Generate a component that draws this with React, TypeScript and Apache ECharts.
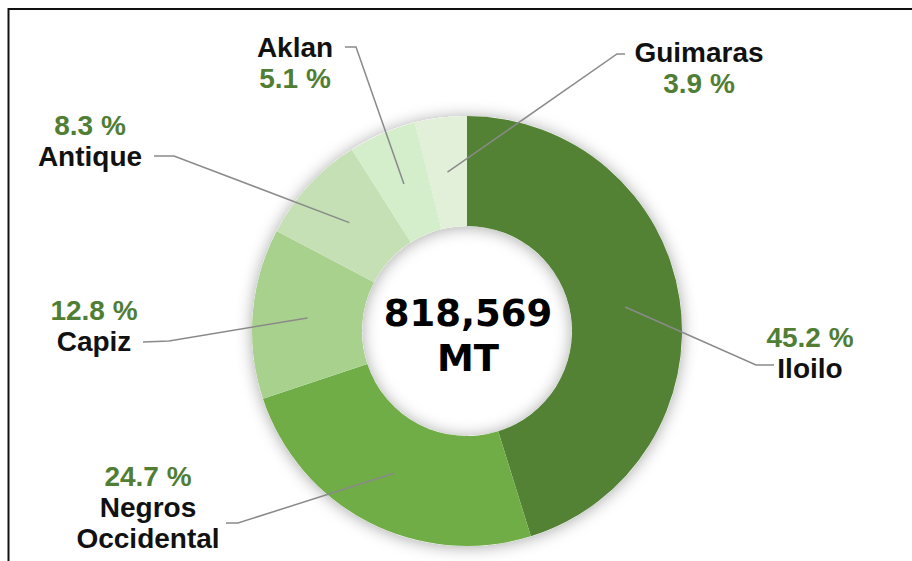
import React, { useEffect, useRef } from 'react';
import * as echarts from 'echarts';

// ---- data ----
const regions = ['Iloilo', 'Negros Occidental', 'Capiz', 'Antique', 'Aklan', 'Guimaras'];
const shares = [45.2, 24.7, 12.8, 8.3, 5.1, 3.9];
const sliceColors = ['#548235', '#70AD47', '#A9D18E', '#C5E0B4', '#D4EDCA', '#E2EFD9'];
const totalVolumeMT = 818569;
const unitLabel = 'MT';
const nameFirst = [false, false, false, false, true, true];

// ---- layout ----
const CX = 467;
const CY = 331;
const R0 = 105;
const R1 = 215;
const RLINE = 160;

const labelSpots: { x: number; y: number; elbow: number[]; end: number[] }[] = [
  { x: 810, y: 353, elbow: [756, 365], end: [774, 365] },
  { x: 148, y: 507, elbow: [238, 523], end: [226, 523] },
  { x: 94, y: 326, elbow: [169, 341], end: [143, 342] },
  { x: 90, y: 141, elbow: [174, 156], end: [154, 156] },
  { x: 295, y: 63, elbow: [356, 47], end: [345, 47] },
  { x: 699, y: 68, elbow: [617, 54], end: [625, 54] },
];

const FONT = '"Liberation Sans", Arial, sans-serif';

function fallbackStart(i: number): number[] {
  const total = shares.reduce((a, b) => a + b, 0);
  let cum = 0;
  for (let k = 0; k < i; k++) cum += shares[k];
  const mid = ((cum + shares[i] / 2) / total) * Math.PI * 2;
  return [CX + RLINE * Math.sin(mid), CY - RLINE * Math.cos(mid)];
}

export default function App() {
  const ref = useRef<HTMLDivElement>(null);

  useEffect(() => {
    if (!ref.current) return;
    const chart = echarts.init(ref.current, undefined, { renderer: 'svg' });
    const pieData = regions.map((name, i) => ({
      name,
      value: shares[i],
      itemStyle: { color: sliceColors[i] },
    }));

    chart.setOption({
      animation: false,
      backgroundColor: '#ffffff',
      graphic: [
        {
          type: 'polyline',
          silent: true,
          shape: { points: [[8.5, 561], [8.5, 9], [912, 9]] },
          style: { stroke: '#111', lineWidth: 2, fill: 'none' },
          z: 100,
        },
        {
          type: 'text',
          silent: true,
          x: 468,
          y: 336,
          z: 100,
          style: {
            text: totalVolumeMT.toLocaleString('en-US') + '\n' + unitLabel,
            fontFamily: '"DejaVu Sans", Verdana, sans-serif',
            fontWeight: 'bold',
            fontSize: 37,
            lineHeight: 45,
            fill: '#000',
            align: 'center',
            verticalAlign: 'middle',
          },
        },
      ],
      series: [
        {
          type: 'pie',
          silent: true,
          z: 1,
          center: [CX, CY],
          radius: [R0, R1],
          label: { show: false },
          labelLine: { show: false },
          data: [{ value: 1, itemStyle: { color: '#ffffff' } }],
          itemStyle: {
            shadowBlur: 16,
            shadowColor: 'rgba(0,0,0,0.35)',
            shadowOffsetY: 1,
          },
        },
        {
          type: 'pie',
          silent: true,
          z: 2,
          center: [CX, CY],
          radius: [R0, R1],
          startAngle: 90,
          clockwise: true,
          label: { show: false },
          labelLine: { show: false },
          itemStyle: { borderWidth: 0 },
          data: pieData,
        },
        {
          type: 'pie',
          silent: true,
          z: 5,
          center: [CX, CY],
          radius: [0, RLINE],
          startAngle: 90,
          clockwise: true,
          avoidLabelOverlap: false,
          itemStyle: { color: 'rgba(0,0,0,0)', borderWidth: 0 },
          label: {
            show: true,
            position: 'outside',
            formatter: (p: any) => {
              const i = p.dataIndex;
              const name = regions[i].split(' ').map((w) => `{n|${w}}`).join('\n');
              const pct = `{p|${shares[i].toFixed(1)} %}`;
              return nameFirst[i] ? name + '\n' + pct : pct + '\n' + name;
            },
            rich: {
              n: { fontFamily: FONT, fontWeight: 'bold', fontSize: 28, lineHeight: 31, color: '#111111', align: 'center' },
              p: { fontFamily: FONT, fontWeight: 'bold', fontSize: 28, lineHeight: 31, color: '#4F7E34', align: 'center' },
            },
          },
          labelLine: {
            show: true,
            length: 20,
            length2: 10,
            lineStyle: { color: '#8a8a8a', width: 1.5 },
          },
          labelLayout: (params: any) => {
            const i = params.dataIndex;
            const s = labelSpots[i];
            const p0 =
              params.labelLinePoints && params.labelLinePoints[0]
                ? params.labelLinePoints[0]
                : fallbackStart(i);
            return {
              x: s.x,
              y: s.y,
              align: 'center',
              verticalAlign: 'middle',
              labelLinePoints: [p0, s.elbow, s.end],
            };
          },
          emphasis: { disabled: true },
          data: regions.map((name, i) => ({ name, value: shares[i] })),
        },
      ],
    });

    return () => chart.dispose();
  }, []);

  return (
    <div
      ref={ref}
      style={{ position: 'fixed', left: 0, top: 0, width: 912, height: 561 }}
    />
  );
}
